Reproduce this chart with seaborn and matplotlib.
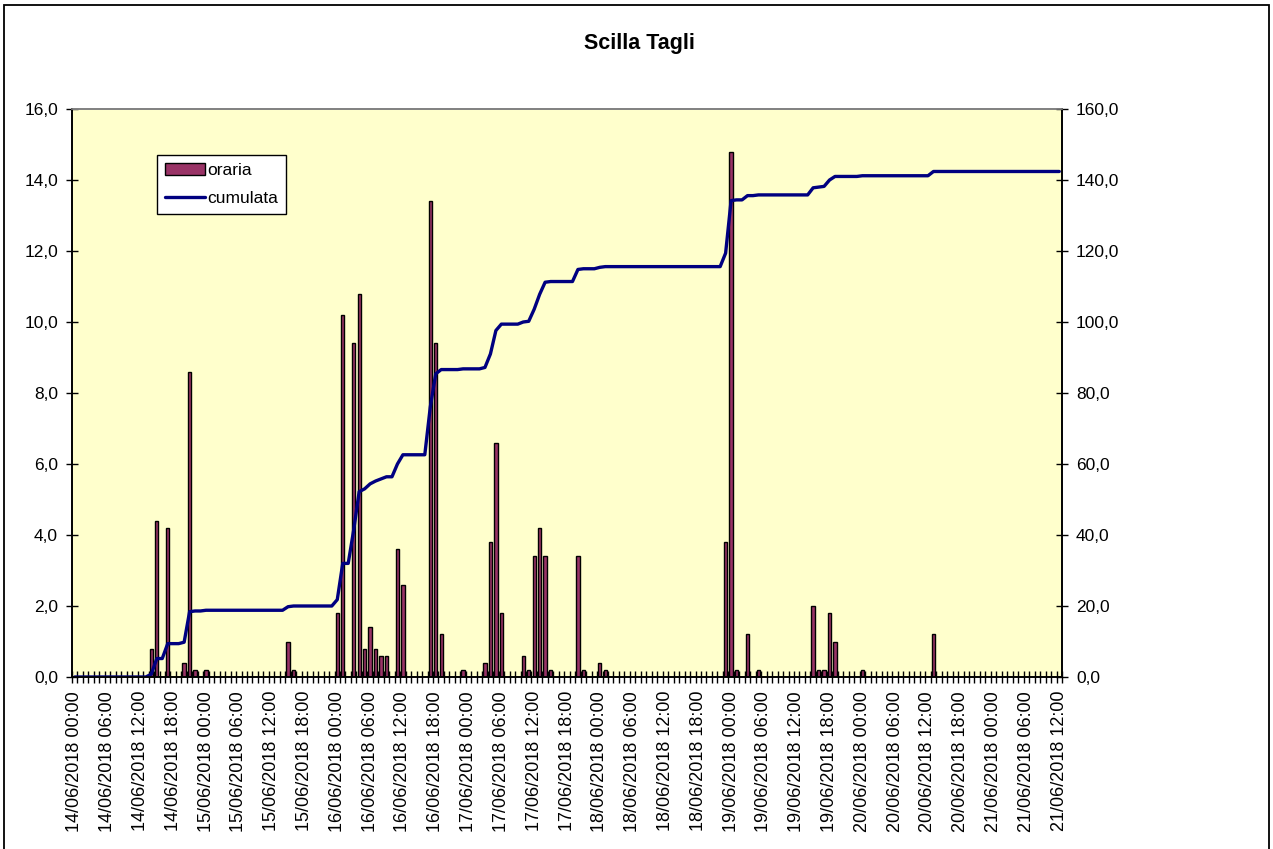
import numpy as np
import pandas as pd
import matplotlib
matplotlib.use("Agg")
import matplotlib.pyplot as plt
from matplotlib.patches import Patch, Rectangle
from matplotlib.lines import Line2D
from matplotlib.ticker import FixedLocator, FuncFormatter
import seaborn as sns

# ======================================================
# DATA (hourly rain, mm) - only the wet hours are listed
# ======================================================
START = "2018-06-14 00:00"
N_HOURS = 181  # 14/06 00:00 -> 21/06 12:00

rain_hours = [14, 15, 17, 20, 21, 22, 24, 39, 40, 48, 49, 51, 52, 53, 54, 55,
              56, 57, 59, 60, 65, 66, 67, 71, 75, 76, 77, 78, 82, 83, 84, 85,
              86, 87, 92, 93, 96, 97, 119, 120, 121, 123, 125, 135, 136, 137,
              138, 139, 144, 157]
rain_mm = [0.8, 4.4, 4.2, 0.4, 8.6, 0.2, 0.2, 1.0, 0.2, 1.8, 10.2, 9.4, 10.8,
           0.8, 1.4, 0.8, 0.6, 0.6, 3.6, 2.6, 13.4, 9.4, 1.2, 0.2, 0.4, 3.8,
           6.6, 1.8, 0.6, 0.2, 3.4, 4.2, 3.4, 0.2, 3.4, 0.2, 0.4, 0.2, 3.8,
           14.8, 0.2, 1.2, 0.2, 2.0, 0.2, 0.2, 1.8, 1.0, 0.2, 1.2]

times = pd.date_range(START, periods=N_HOURS, freq="h")
df = pd.DataFrame({"idx": np.arange(N_HOURS), "oraria": 0.0})
df.loc[rain_hours, "oraria"] = rain_mm
df["cumulata"] = df["oraria"].cumsum()

tick_idx = list(range(0, N_HOURS, 6))
tick_labels = [times[i].strftime("%d/%m/%Y %H:%M") for i in tick_idx]

# ======================================================
# STYLE
# ======================================================
sns.set_style("white")
plt.rcParams["font.family"] = ["Liberation Sans", "DejaVu Sans"]
plt.rcParams["text.color"] = "black"
plt.rcParams["xtick.color"] = "black"
plt.rcParams["ytick.color"] = "black"

BAR_COLOR = "#993366"
LINE_COLOR = "#000080"
BG_COLOR = "#FFFFCC"

fig = plt.figure(figsize=(12.73, 8.49), dpi=100)
ax = fig.add_axes([72 / 1273, 1 - 677 / 849, 990 / 1273, 568 / 849])
ax.set_facecolor(BG_COLOR)

# bars - hourly
sns.barplot(data=df, x="idx", y="oraria", ax=ax, color=BAR_COLOR,
            saturation=1, edgecolor="black", linewidth=1.0, width=0.6)

# line - cumulative
ax2 = ax.twinx()
sns.lineplot(data=df, x="idx", y="cumulata", ax=ax2, color=LINE_COLOR,
             linewidth=2.4, legend=False)

ax.set_xlim(-0.5, N_HOURS - 0.5)
ax.set_ylim(0, 16)
ax2.set_ylim(0, 160)

fmt = FuncFormatter(lambda v, p: f"{v:.1f}".replace(".", ","))
ax.set_yticks(np.arange(0, 16.1, 2))
ax.yaxis.set_major_formatter(fmt)
ax2.set_yticks(np.arange(0, 161, 20))
ax2.yaxis.set_major_formatter(fmt)

ax.set_xticks(tick_idx)
ax.set_xticklabels(tick_labels, rotation=90, fontsize=13)
ax.xaxis.set_minor_locator(FixedLocator(np.arange(-0.5, N_HOURS, 1)))
ax.tick_params(axis="x", which="major", bottom=True, length=0, pad=10,
               labelcolor="black")
ax.tick_params(axis="x", which="minor", bottom=True, length=8, width=1,
               direction="inout", color="black")
ax.tick_params(axis="y", left=True, length=8, width=1, direction="inout",
               labelsize=12.5, pad=6, color="black", labelcolor="black")
ax2.tick_params(axis="y", right=True, length=8, width=1, direction="inout",
                labelsize=12.5, pad=6, color="black", labelcolor="black")

ax.set_xlabel("")
ax.set_ylabel("")
ax2.set_xlabel("")
ax2.set_ylabel("")

for a in (ax, ax2):
    for side in ("left", "right", "bottom"):
        a.spines[side].set_color("black")
        a.spines[side].set_linewidth(1.2)
    a.spines["top"].set_color("#808080")
    a.spines["top"].set_linewidth(1.2)

# legend
handles = [Patch(facecolor=BAR_COLOR, edgecolor="black", linewidth=1),
           Line2D([0], [0], color=LINE_COLOR, linewidth=2.4)]
leg = ax2.legend(handles, ["oraria", "cumulata"], loc="upper left",
                 bbox_to_anchor=(0.086, 0.919), borderaxespad=0,
                 fancybox=False, framealpha=1, edgecolor="black",
                 fontsize=12.5, handlelength=2.3, handletextpad=0.15,
                 borderpad=0.45, labelspacing=0.75)
leg.get_frame().set_linewidth(1)

fig.text(639 / 1273, 1 - 44 / 849, "Scilla Tagli", ha="center", va="center",
         fontsize=15.5, fontweight="bold", color="black")

# chart area border
fig.patches.append(Rectangle((4 / 1273, -0.01), 1265 / 1273, 1.01 - 5 / 849,
                             transform=fig.transFigure, fill=False,
                             edgecolor="black", linewidth=1.3))

fig.savefig("out.png", dpi=100)
plt.close(fig)
